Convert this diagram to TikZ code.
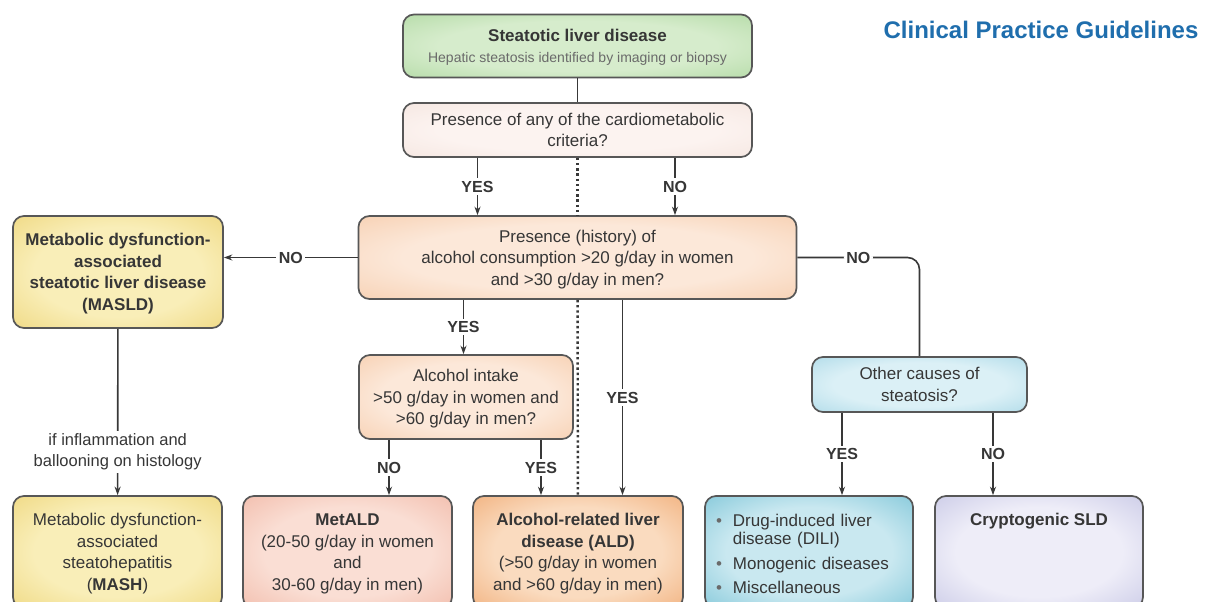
\documentclass[tikz,border=0pt]{standalone}
\usepackage{fontspec}
\setmainfont{Liberation Sans}
\usetikzlibrary{arrows.meta}

\definecolor{ink}{HTML}{363636}
\definecolor{linegray}{HTML}{383838}
\definecolor{framegray}{HTML}{575757}
\definecolor{subgray}{HTML}{6A6A6A}
\definecolor{cpgblue}{HTML}{1F6EAD}
\definecolor{sldin}{HTML}{D6ECCC}
\definecolor{sldout}{HTML}{9CCF8C}
\definecolor{critin}{HTML}{FCF3F0}
\definecolor{critout}{HTML}{F0DDD5}
\definecolor{peachin}{HTML}{FCE8D9}
\definecolor{peachout}{HTML}{F3BE95}
\definecolor{yellowin}{HTML}{F9EEB8}
\definecolor{yellowout}{HTML}{E8C95A}
\definecolor{pinkin}{HTML}{FADED4}
\definecolor{pinkout}{HTML}{ECA48E}
\definecolor{orangein}{HTML}{FADBBF}
\definecolor{orangeout}{HTML}{EB924E}
\definecolor{skyin}{HTML}{DBF0F6}
\definecolor{skyout}{HTML}{90CCDF}
\definecolor{tealin}{HTML}{C9E8F0}
\definecolor{tealout}{HTML}{50B0C9}
\definecolor{lavin}{HTML}{EEEDF8}
\definecolor{lavout}{HTML}{B0B1DA}
\colorlet{glowin}{white}
\colorlet{glowout}{white}
\pgfdeclareradialshading[glowin,glowout]{glow}{\pgfpoint{0bp}{0bp}}{color(0bp)=(glowin); color(20bp)=(glowin); color(50bp)=(glowout)}

\begin{document}
\begin{tikzpicture}[x=1pt, y=-1pt,
    box/.style={draw=framegray, line width=1.7pt, rounded corners=11pt,
        align=center, text=ink, font=\fontsize{17}{21.5}\selectfont, inner sep=4pt, text depth=0pt},
    glow/.style 2 args={/utils/exec={\colorlet{glowin}{#1}\colorlet{glowout}{#2}},
        shade, shading=glow},
    yn/.style={fill=white, text=ink, font=\fontsize{16}{18}\selectfont\bfseries, inner sep=2.5pt},
    note/.style={fill=white, align=center, text=ink, font=\fontsize{16.5}{20.5}\selectfont, inner sep=3pt},
    conn/.style={draw=linegray, line width=1.6pt},
    arr/.style={conn, -{Stealth[length=8.5pt, width=6pt]}},
    dots/.style={draw=linegray, line width=2.4pt, dash pattern=on 2.4pt off 2.8pt}
]
    \useasboundingbox (0,0) rectangle (1213,602);
    \fill[white] (0,0) rectangle (1213,602);
    \clip (0,0) rectangle (1213,602);

    \node[text=cpgblue, font=\fontsize{24}{28}\selectfont\bfseries] (cpg) at (1041,30) {Clinical Practice Guidelines};

    \node[box, glow={sldin}{sldout}, minimum width=349pt, minimum height=63pt] (sld) at (577.5,46)
        {\textbf{Steatotic liver disease}\\[-1pt]{\fontsize{14}{17}\selectfont\color{subgray}Hepatic steatosis identified by imaging or biopsy}};
    \node[box, glow={critin}{critout}, minimum width=349pt, minimum height=54pt] (cardio) at (577.5,130)
        {Presence of any of the cardiometabolic\\criteria?};
    \node[box, glow={peachin}{peachout}, minimum width=438pt, minimum height=83pt] (alcohol) at (577.5,257.5)
        {Presence (history) of\\alcohol consumption >20 g/day in women\\and >30 g/day in men?};
    \node[box, glow={yellowin}{yellowout}, minimum width=210pt, minimum height=112pt] (masld) at (118,272)
        {\textbf{Metabolic dysfunction-}\\\textbf{associated}\\\textbf{steatotic liver disease}\\\textbf{(MASLD)}};
    \node[box, glow={peachin}{peachout}, minimum width=214pt, minimum height=84pt] (intake) at (466,397)
        {Alcohol intake\\>50 g/day in women and\\>60 g/day in men?};
    \node[box, glow={skyin}{skyout}, minimum width=215pt, minimum height=55pt] (other) at (919.5,384.5)
        {Other causes of\\steatosis?};
    \node[box, glow={yellowin}{yellowout}, minimum width=209pt, minimum height=112pt] (mash) at (117.5,552)
        {Metabolic dysfunction-\\associated\\steatohepatitis\\(\textbf{MASH})};
    \node[box, glow={pinkin}{pinkout}, minimum width=209pt, minimum height=112pt] (metald) at (347.5,552)
        {\textbf{MetALD}\\(20-50 g/day in women\\and\\30-60 g/day in men)};
    \node[box, glow={orangein}{orangeout}, minimum width=210pt, minimum height=112pt] (ald) at (578,552)
        {\textbf{Alcohol-related liver}\\\textbf{disease (ALD)}\\(>50 g/day in women\\and >60 g/day in men)};
    \node[box, glow={tealin}{tealout}, text width=186pt, inner xsep=11pt, align=left, minimum height=112pt,
        text height=54pt, text depth=36pt] (dili) at (809,552)
        {\fontsize{17}{17.5}\selectfont\begin{tabular}{@{}c@{\hspace{11pt}}l@{}}
            {\color{subgray}\textbullet} & Drug-induced liver\\
            & disease (DILI)\\[7pt]
            {\color{subgray}\textbullet} & Monogenic diseases\\[7pt]
            {\color{subgray}\textbullet} & Miscellaneous
        \end{tabular}};
    \node[box, glow={lavin}{lavout}, minimum width=208pt, minimum height=112pt,
        label={[anchor=north, yshift=-14pt, text=ink, font=\fontsize{17}{21}\selectfont\bfseries]north:Cryptogenic SLD}] (crypto) at (1039,552) {};

    \draw[conn] (sld) -- (cardio);
    \draw[dots] (cardio) -- (alcohol);
    \draw[dots] (alcohol) -- (ald);
    \draw[arr] ([xshift=-100pt]cardio.south) -- node[yn]{YES} ([xshift=-100pt]alcohol.north);
    \draw[arr] ([xshift=97.5pt]cardio.south) -- node[yn]{NO} ([xshift=97.5pt]alcohol.north);
    \draw[arr] (alcohol.west) -- node[yn]{NO} (alcohol.west -| masld.east);
    \draw[conn, rounded corners=12pt] (alcohol.east) -| node[yn, pos=0.25]{NO} (other.north);
    \draw[arr] ([xshift=-114pt]alcohol.south) -- node[yn]{YES} ([xshift=-114pt]alcohol.south |- intake.north);
    \draw[arr] ([xshift=45pt]alcohol.south) -- node[yn]{YES} ([xshift=45pt]alcohol.south |- ald.north);
    \draw[arr] ([xshift=-77pt]intake.south) -- node[yn]{NO} ([xshift=-77pt]intake.south |- metald.north);
    \draw[arr] ([xshift=75pt]intake.south) -- node[yn]{YES} ([xshift=75pt]intake.south |- ald.north);
    \draw[arr] ([xshift=-77.5pt]other.south) -- node[yn]{YES} ([xshift=-77.5pt]other.south |- dili.north);
    \draw[arr] ([xshift=73.5pt]other.south) -- node[yn]{NO} ([xshift=73.5pt]other.south |- crypto.north);
    \draw[arr] (masld) -- node[note, pos=0.74]{if inflammation and\\ballooning on histology} (mash);
\end{tikzpicture}
\end{document}
